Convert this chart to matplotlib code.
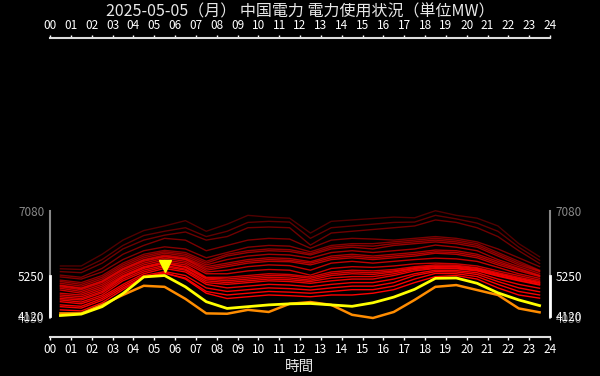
import numpy as np
import matplotlib
matplotlib.use("Agg")
import matplotlib.pyplot as plt
from matplotlib.transforms import offset_copy

plt.rcParams['font.family'] = ['Noto Sans CJK JP', 'DejaVu Sans']

title = "2025-05-05（月） 中国電力 電力使用状況（単位MW）"
hours = [h + 0.5 for h in range(24)]
xtick_labels = ["%02d" % h for h in range(25)]

# today
today = [4120, 4160, 4370, 4740, 5210, 5250, 4930, 4510, 4320, 4370, 4420, 4450,
         4460, 4420, 4380, 4480, 4640, 4860, 5170, 5180, 5030, 4760, 4560, 4400]
# comparison day
other = [4180, 4180, 4420, 4700, 4960, 4930, 4590, 4180, 4170, 4280, 4220, 4450,
         4500, 4420, 4140, 4050, 4220, 4560, 4930, 4980, 4840, 4700, 4320, 4210]

# past days
past = [
    [5520, 5520, 5850, 6250, 6520, 6650, 6800, 6500, 6700, 6950, 6900, 6870, 6450, 6780, 6820, 6860, 6900, 6880, 7080, 6950, 6870, 6650, 6150, 5780],
    [5440, 5420, 5700, 6100, 6380, 6500, 6600, 6350, 6500, 6750, 6780, 6760, 6300, 6600, 6650, 6700, 6750, 6760, 6950, 6850, 6730, 6500, 6050, 5680],
    [5360, 5330, 5600, 6000, 6250, 6390, 6480, 6250, 6350, 6600, 6620, 6600, 6110, 6450, 6500, 6550, 6600, 6650, 6820, 6750, 6600, 6350, 5950, 5590],
    [5260, 5200, 5450, 5850, 6100, 6300, 6250, 5950, 6100, 6250, 6300, 6280, 6020, 6250, 6300, 6280, 6250, 6300, 6350, 6300, 6200, 6000, 5750, 5500],
    [5210, 5150, 5350, 5700, 5950, 6060, 6000, 5750, 5900, 6050, 6100, 6080, 5920, 6100, 6150, 6150, 6200, 6250, 6300, 6250, 6150, 5900, 5650, 5400],
    [5120, 5050, 5250, 5600, 5850, 5960, 5900, 5650, 5850, 5950, 6000, 5980, 5870, 6050, 6100, 6080, 6150, 6200, 6250, 6200, 6100, 5850, 5600, 5380],
    [5080, 5000, 5200, 5550, 5800, 5920, 5850, 5600, 5800, 5900, 5950, 5930, 5830, 6000, 6050, 6000, 6100, 6150, 6200, 6150, 6050, 5800, 5550, 5360],
    [5030, 4950, 5150, 5500, 5750, 5880, 5800, 5550, 5700, 5800, 5850, 5830, 5740, 5900, 5950, 5900, 5950, 6000, 6110, 6050, 5950, 5700, 5500, 5310],
    [4980, 4900, 5100, 5450, 5700, 5830, 5750, 5500, 5600, 5700, 5750, 5730, 5640, 5800, 5850, 5800, 5850, 5900, 5970, 5950, 5850, 5650, 5450, 5260],
    [4960, 4880, 5080, 5430, 5680, 5800, 5720, 5450, 5550, 5650, 5700, 5680, 5600, 5750, 5800, 5750, 5800, 5850, 5920, 5900, 5800, 5600, 5420, 5240],
    [4930, 4850, 5050, 5400, 5650, 5780, 5700, 5400, 5500, 5600, 5650, 5640, 5550, 5700, 5750, 5700, 5750, 5800, 5880, 5850, 5750, 5550, 5380, 5220],
    [4890, 4800, 5000, 5350, 5600, 5740, 5650, 5350, 5400, 5500, 5550, 5530, 5400, 5600, 5650, 5600, 5650, 5700, 5740, 5720, 5650, 5480, 5300, 5170],
    [4840, 4750, 4950, 5300, 5550, 5690, 5600, 5300, 5300, 5380, 5420, 5400, 5260, 5450, 5500, 5480, 5520, 5580, 5600, 5580, 5520, 5380, 5250, 5120],
    [4750, 4700, 4900, 5250, 5500, 5640, 5550, 5200, 5200, 5250, 5300, 5280, 5210, 5350, 5400, 5380, 5420, 5500, 5550, 5540, 5470, 5330, 5200, 5080],
    [4700, 4650, 4850, 5220, 5480, 5610, 5500, 5180, 5150, 5200, 5250, 5240, 5170, 5300, 5350, 5330, 5380, 5470, 5520, 5510, 5450, 5300, 5170, 5050],
    [4650, 4600, 4800, 5200, 5450, 5590, 5480, 5150, 5100, 5150, 5200, 5180, 5120, 5250, 5300, 5280, 5350, 5450, 5500, 5490, 5420, 5280, 5150, 5030],
    [4600, 4560, 4760, 5150, 5400, 5540, 5430, 5100, 5050, 5100, 5150, 5130, 5080, 5180, 5220, 5220, 5300, 5420, 5470, 5460, 5400, 5250, 5120, 5000],
    [4560, 4500, 4700, 5100, 5350, 5500, 5400, 5050, 5000, 5050, 5100, 5080, 5030, 5100, 5150, 5150, 5250, 5380, 5450, 5440, 5380, 5230, 5100, 4980],
    [4510, 4450, 4650, 5000, 5300, 5450, 5350, 5000, 4900, 4950, 5000, 4980, 4930, 5000, 5050, 5050, 5150, 5300, 5400, 5390, 5330, 5150, 5000, 4890],
    [4420, 4380, 4600, 4950, 5250, 5360, 5250, 4900, 4800, 4850, 4900, 4880, 4840, 4900, 4950, 4950, 5050, 5250, 5360, 5350, 5280, 5080, 4900, 4790],
    [4370, 4330, 4550, 4900, 5200, 5310, 5180, 4800, 4700, 4750, 4800, 4780, 4750, 4800, 4850, 4850, 4950, 5150, 5310, 5300, 5220, 5000, 4800, 4700],
    [4280, 4250, 4480, 4850, 5200, 5330, 5150, 4750, 4600, 4650, 4700, 4680, 4650, 4700, 4700, 4750, 4850, 5050, 5220, 5250, 5150, 4900, 4700, 4610],
]

fig = plt.figure(figsize=(6, 3.76), dpi=100, facecolor='black')
ax = fig.add_axes([50/600, 39/376, 500/600, 299/376])
ax.set_facecolor('black')

alphas = np.sqrt(np.linspace(0.1, 1.0, len(past)))
for row, a in zip(past, alphas):
    ax.plot(hours, row, color='#ff0000', alpha=a, lw=1.0)
ax.plot(hours, other, color='#ff8c00', lw=1.8)
ax.plot(hours, today, color='#ffff00', lw=2.0)

ipk = int(np.argmax(today))
ax.plot(hours[ipk], today[ipk], marker='v', color='#ffff00', ms=8, ls='none',
        transform=offset_copy(ax.transData, fig, y=10, units='dots'))

all_vals = np.array(past + [other, today])
lo, hi = all_vals.min(), all_vals.max()
tlo, thi = min(today), max(today)

ax.set_xlim(0, 24)
ax.set_ylim(3513, 11960)

ax.set_xticks(range(25))
ax.set_xticklabels(xtick_labels)
ax.tick_params(axis='x', top=True, labeltop=True, colors='white', labelsize=8.5,
               length=2.5, width=1, pad=1.5)
for s in ['top', 'bottom']:
    ax.spines[s].set_color('#dddddd')
    ax.spines[s].set_linewidth(1.5)

ax.set_yticks([lo, tlo, thi, hi])
ax.set_yticklabels([str(int(v)) for v in [lo, tlo, thi, hi]])
ax.tick_params(axis='y', right=True, labelright=True, labelsize=8.5,
               length=2.5, width=1.2, pad=1.5)
for t, v in zip(ax.yaxis.get_major_ticks(), [lo, tlo, thi, hi]):
    c = 'white' if v in (tlo, thi) else '#888888'
    t.tick1line.set_color(c)
    t.tick2line.set_color(c)
    t.label1.set_color(c)
    t.label2.set_color(c)
    t.set_zorder(3 if c == 'white' else 2)

for s in ['left', 'right']:
    ax.spines[s].set_color('#888888')
    ax.spines[s].set_linewidth(1.5)
    ax.spines[s].set_bounds(lo, hi)
for x in (0, 24):
    ax.plot([x, x], [tlo, thi], color='white', lw=2, clip_on=False, zorder=5)

fig.text(0.5, 1 - 12/376, title, ha='center', va='center', color='#e8e8e8', fontsize=11.5)
fig.text(0.5, 1 - 367/376, '時間', ha='center', va='center', color='#e8e8e8', fontsize=10.5)

fig.savefig('out.png', dpi=100, facecolor='black')
